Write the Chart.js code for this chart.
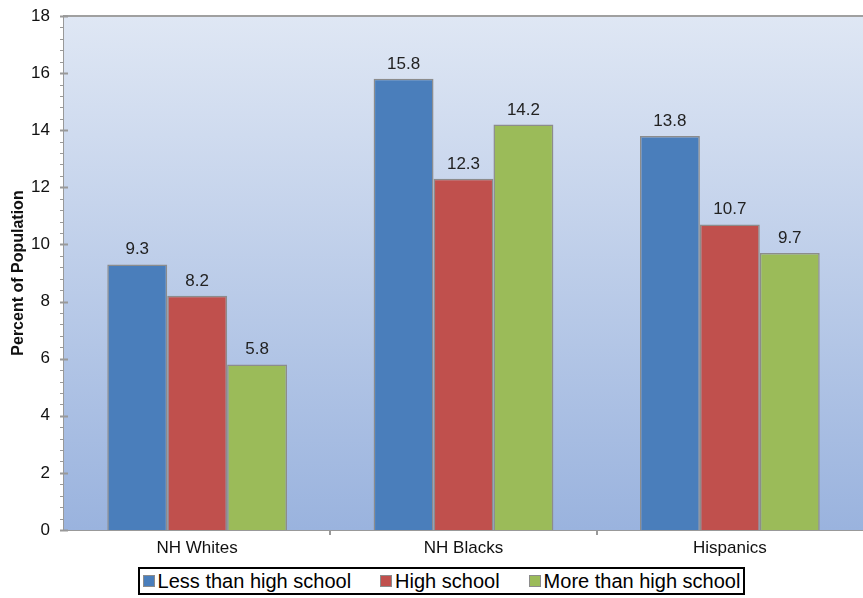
<!DOCTYPE html>
<html lang="en">
<head>
    <meta charset="UTF-8">
    <title>Percent of Population by Education</title>
    <style>
        body { margin: 0; background: #fff; font-family: "Liberation Sans", Arial, sans-serif; }
        #wrap { position: relative; width: 863px; height: 598px; }
        #chartBox { position: absolute; left: 0; top: 0; width: 863px; height: 562px; }
        /* legend with a black frame, like the original */
        #legend {
            position: absolute; left: 138px; top: 567px; width: 607px; height: 28px;
            box-sizing: border-box; border: 2px solid #000;
            display: flex; align-items: center; justify-content: center; gap: 29px;
            font-size: 20px; color: #000;
        }
        .item { display: flex; align-items: center; white-space: nowrap; }
        .swatch { width: 10px; height: 10px; border: 1px solid #8c8c8c; margin-right: 3px; }
    </style>
    <script src="https://cdn.jsdelivr.net/npm/chart.js"></script>
</head>
<body>
<div id="wrap">
    <div id="chartBox"><canvas id="eduChart"></canvas></div>
    <div id="legend"></div>
</div>

<script>
    // data
    const categories = ["NH Whites", "NH Blacks", "Hispanics"];
    const seriesNames = ["Less than high school", "High school", "More than high school"];
    const lessThanHighSchool = [9.3, 15.8, 13.8];
    const highSchool = [8.2, 12.3, 10.7];
    const moreThanHighSchool = [5.8, 14.2, 9.7];
    const yMin = 0, yMax = 18, yStep = 2, yMinorStep = 0.4;

    const colors = ["#4a7ebb", "#c0504d", "#9bbb59"];
    const seriesData = [lessThanHighSchool, highSchool, moreThanHighSchool];

    // gradient behind the bars + top frame line
    const bgPlugin = {
        id: "bg",
        beforeDatasetsDraw(chart) {
            const { ctx, chartArea: a } = chart;
            const g = ctx.createLinearGradient(0, a.top, 0, a.bottom);
            g.addColorStop(0, "#dfe7f4");
            g.addColorStop(1, "#9ab3de");
            ctx.save();
            ctx.fillStyle = g;
            ctx.fillRect(a.left, a.top, a.right - a.left, a.bottom - a.top);
            ctx.restore();
        },
        afterDraw(chart) {
            const { ctx, chartArea: a } = chart;
            const y = chart.scales.y, x = chart.scales.x;
            ctx.save();
            ctx.strokeStyle = "#a0a0a0";
            ctx.lineWidth = 2;
            ctx.beginPath();
            ctx.moveTo(a.left, a.top);
            ctx.lineTo(a.right, a.top);
            ctx.stroke();

            // y tick marks, major ones cross the axis
            ctx.strokeStyle = "#999";
            const n = Math.round((yMax - yMin) / yMinorStep);
            for (let i = 0; i <= n; i++) {
                const py = Math.round(y.getPixelForValue(yMin + i * yMinorStep)) + 0.5;
                const major = i % Math.round(yStep / yMinorStep) === 0;
                ctx.lineWidth = major ? 2 : 1;
                ctx.beginPath();
                ctx.moveTo(a.left - 4, py);
                ctx.lineTo(a.left + (major ? 4 : 0), py);
                ctx.stroke();
            }

            // x tick marks between categories
            ctx.lineWidth = 2;
            for (let i = 1; i < categories.length; i++) {
                const px = Math.round((x.getPixelForTick(i - 1) + x.getPixelForTick(i)) / 2);
                ctx.beginPath();
                ctx.moveTo(px, a.bottom);
                ctx.lineTo(px, a.bottom + 5);
                ctx.stroke();
            }
            ctx.restore();
        }
    };

    // value labels above each bar
    const valueLabels = {
        id: "valueLabels",
        afterDatasetsDraw(chart) {
            const { ctx } = chart;
            ctx.save();
            ctx.font = "17px 'Liberation Sans', Arial, sans-serif";
            ctx.fillStyle = "#222";
            ctx.textAlign = "center";
            ctx.textBaseline = "alphabetic";
            chart.data.datasets.forEach((ds, di) => {
                chart.getDatasetMeta(di).data.forEach((bar, i) => {
                    ctx.fillText(ds.data[i].toFixed(1), bar.x, bar.y - 10);
                });
            });
            ctx.restore();
        }
    };

    const ctx = document.getElementById("eduChart").getContext("2d");
    new Chart(ctx, {
        type: "bar",
        data: {
            labels: categories,
            datasets: seriesNames.map((name, i) => ({
                label: name,
                data: seriesData[i],
                backgroundColor: colors[i],
                borderColor: "#8c8c8c",
                borderWidth: 1.5,
                categoryPercentage: 0.675,
                barPercentage: 1.0
            }))
        },
        options: {
            responsive: true,
            maintainAspectRatio: false,
            animation: false,
            layout: { padding: { top: 16, left: 0, right: 0, bottom: 0 } },
            plugins: {
                legend: { display: false },
                tooltip: { enabled: false }
            },
            scales: {
                x: {
                    grid: { display: false, drawTicks: false },
                    border: { display: true, color: "#999", width: 2 },
                    ticks: {
                        padding: 8,
                        color: "#111",
                        font: { size: 17, family: "'Liberation Sans', Arial, sans-serif" }
                    },
                    afterFit(scale) {
                        scale.height = 32;
                        scale.paddingLeft = 0;
                        scale.paddingRight = 0;
                    }
                },
                y: {
                    min: yMin,
                    max: yMax,
                    grid: { display: false, drawTicks: false },
                    border: { display: true, color: "#999", width: 2 },
                    ticks: {
                        stepSize: yStep,
                        padding: 14,
                        color: "#111",
                        font: { size: 17, family: "'Liberation Sans', Arial, sans-serif" }
                    },
                    title: {
                        display: true,
                        text: "Percent of Population",
                        color: "#111",
                        padding: { top: 9, bottom: 4 },
                        font: { size: 16, weight: "bold", family: "'Liberation Sans', Arial, sans-serif" }
                    },
                    afterFit(scale) {
                        scale.width = 64;
                        scale.paddingTop = 0;
                        scale.paddingBottom = 0;
                    }
                }
            }
        },
        plugins: [bgPlugin, valueLabels]
    });

    // legend built from the same arrays
    const legend = document.getElementById("legend");
    seriesNames.forEach((name, i) => {
        const item = document.createElement("div");
        item.className = "item";
        const sw = document.createElement("span");
        sw.className = "swatch";
        sw.style.background = colors[i];
        const label = document.createElement("span");
        label.textContent = name;
        item.appendChild(sw);
        item.appendChild(label);
        legend.appendChild(item);
    });
</script>
</body>
</html>
